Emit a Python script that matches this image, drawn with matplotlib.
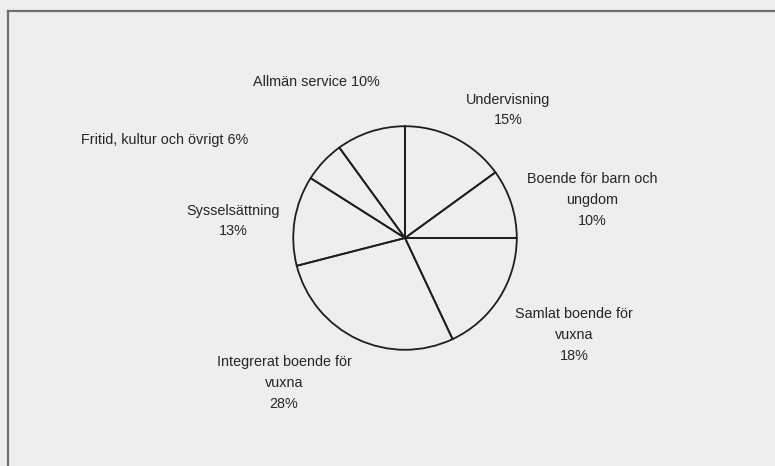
import matplotlib
matplotlib.use("Agg")
import matplotlib.pyplot as plt
from matplotlib.lines import Line2D

# budget shares, clockwise from 12 o'clock
categories = [
    "Undervisning",
    "Boende för barn och\nungdom",
    "Samlat boende för\nvuxna",
    "Integrerat boende för\nvuxna",
    "Sysselsättning",
    "Fritid, kultur och övrigt",
    "Allmän service",
]
shares = [15, 10, 18, 28, 13, 6, 10]
# single-line labels put the percentage on the same line
inline_pct = [False, False, False, False, False, True, True]

# label centres in figure pixels (x from left, y from top)
label_xy = [
    (508, 110),
    (592, 200),
    (574, 335),
    (284, 383),
    (233, 221),
    (165, 140),
    (316, 82),
]

W, H = 775, 466
bg = "#eeeeee"
ink = "#262626"

fig = plt.figure(figsize=(W / 100, H / 100), dpi=100)
fig.patch.set_facecolor(bg)

# frame around the chart (left and top edges show on the page)
frame_col = "#707070"
fig.add_artist(Line2D([8 / W, 8 / W], [0, 1 - 11 / H], transform=fig.transFigure,
                      color=frame_col, lw=1.6))
fig.add_artist(Line2D([8 / W, 1], [1 - 11 / H, 1 - 11 / H], transform=fig.transFigure,
                      color=frame_col, lw=1.6))

# pie: centre (405, 238), radius 114 px
cx, cy, r = 405, 238, 114
ax = fig.add_axes([(cx - r) / W, (H - cy - r) / H, 2 * r / W, 2 * r / H])
ax.pie(shares, startangle=90, counterclock=False, radius=1,
       wedgeprops=dict(facecolor="none", edgecolor="#1e1e1e", linewidth=1.3))
ax.set_xlim(-1.02, 1.02)
ax.set_ylim(-1.02, 1.02)
ax.set_aspect("equal")
ax.axis("off")

for name, val, inline, (x, y) in zip(categories, shares, inline_pct, label_xy):
    txt = f"{name} {val}%" if inline else f"{name}\n{val}%"
    fig.text(x / W, 1 - y / H, txt, ha="center", va="center", fontsize=10.4,
             family="Liberation Sans", color=ink, linespacing=1.62)

fig.savefig("out.png", dpi=100, facecolor=fig.get_facecolor())
